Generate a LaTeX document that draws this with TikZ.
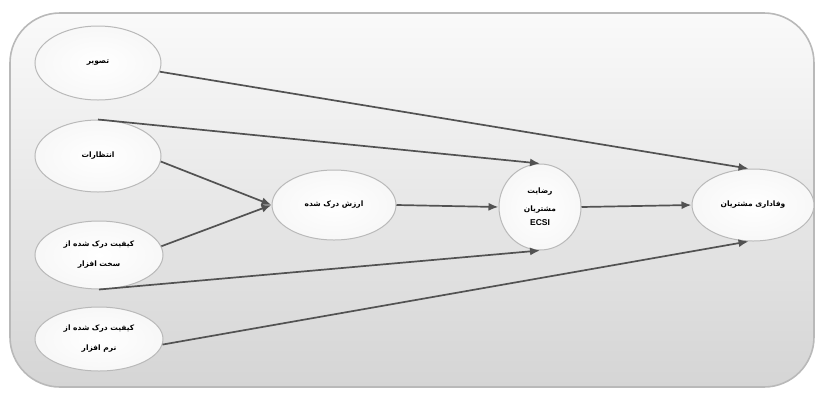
\documentclass[tikz,border=0pt]{standalone}
\usepackage{fontspec}
\setmainfont{Liberation Sans}
\newfontfamily\arabicfont[Script=Arabic]{DejaVu Sans}
\TeXXeTstate=1
\newcommand{\farsi}[1]{\beginR #1\endR}
\usetikzlibrary{shapes, arrows.meta, positioning}

\begin{document}
\begin{tikzpicture}[x=1pt, y=-1pt, >={Latex[length=10pt, width=8pt]},
    font=\fontsize{7.5}{20}\selectfont\arabicfont\bfseries,
    latent/.style={ellipse, draw=gray!55, line width=1pt, inner color=white, outer color=gray!6, inner sep=0pt, align=center},
    link/.style={->, draw=black!68, line width=1.7pt}]
    \useasboundingbox (0,0) rectangle (817,392);
    \draw[draw=gray!55, line width=1.6pt, rounded corners=50pt, top color=gray!4, bottom color=gray!33]
      (10,13) rectangle (814,387);

    % left column
    \node[latent, minimum width=126pt, minimum height=74pt] (tasvir) at (98,63) {\farsi{تصویر}};
    \node[latent, minimum width=126pt, minimum height=72pt] (entezar) at (98,156) {\farsi{انتظارات}};
    \node[latent, minimum width=128pt, minimum height=68pt] (sakht) at (99,255)
      {\farsi{کیفیت درک شده از}\\\farsi{سخت افزار}};
    \node[latent, minimum width=128pt, minimum height=64pt] (narm) at (99,339)
      {\farsi{کیفیت درک شده از}\\\farsi{نرم افزار}};

    \node[latent, minimum width=124pt, minimum height=70pt] (arzesh) at (334,205) {\farsi{ارزش درک شده}};
    \node[latent, minimum width=82pt, minimum height=86pt] (rezayat) at (540,207)
      {\farsi{رضایت}\\[-2pt]\farsi{مشتریان}\\[-6pt]{\fontspec{Liberation Sans}\bfseries\fontsize{8.5}{10}\selectfont ECSI}};
    \node[latent, minimum width=122pt, minimum height=72pt] (vafadari) at (753,205) {\farsi{وفاداری مشتریان}};

    % paths
    \draw[link] (tasvir.-8) -- (vafadari.97);
    \draw[link] (entezar.north) -- (rezayat.north);
    \draw[link] (entezar.-5) -- (arzesh.west);
    \draw[link] (sakht.8) -- (arzesh.west);
    \draw[link] (sakht.south) -- (rezayat.south);
    \draw[link] (narm.-5) -- (vafadari.263);
    \draw[link] (arzesh.east) -- (rezayat.west);
    \draw[link] (rezayat.east) -- (vafadari.west);
  \end{tikzpicture}
\end{document}
